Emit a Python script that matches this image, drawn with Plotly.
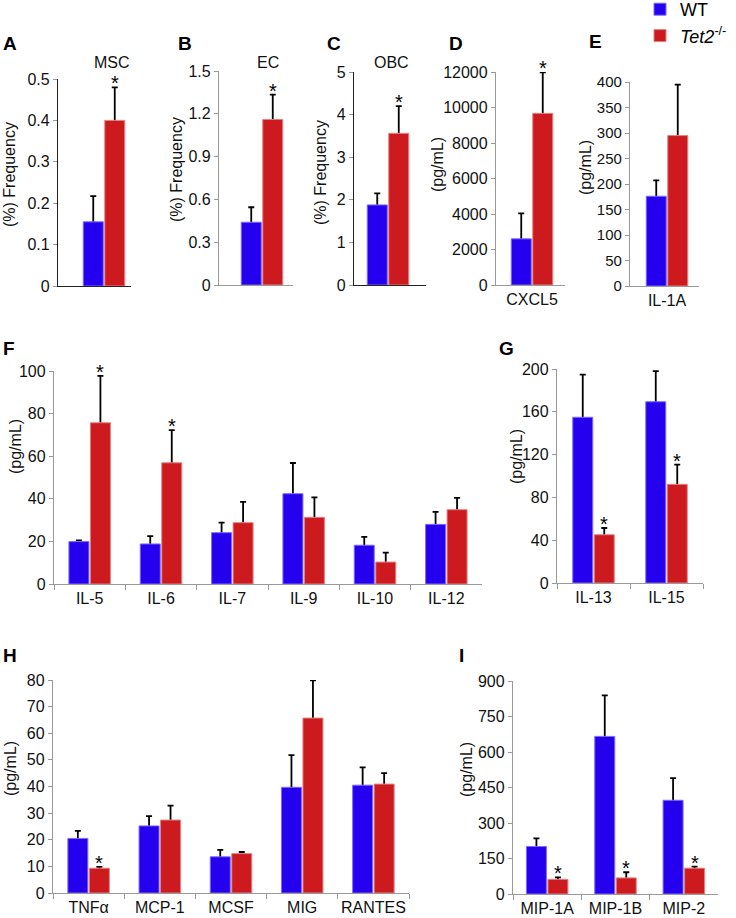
import plotly.graph_objects as go

W, H = 736, 918

BLUE = "#2400EE"
RED = "#CC1A1F"
BLUE_EDGE = "#7C6BFF"
RED_EDGE = "#E48080"
FONT = "Liberation Sans, Arial, Helvetica, sans-serif"

# ---------------- data ----------------
a_cats = ["MSC"]; a_wt = [0.155]; a_wt_err = [0.062]; a_ko = [0.40]; a_ko_err = [0.08]; a_sig = [True]
b_cats = ["EC"]; b_wt = [0.44]; b_wt_err = [0.105]; b_ko = [1.16]; b_ko_err = [0.175]; b_sig = [True]
c_cats = ["OBC"]; c_wt = [1.88]; c_wt_err = [0.27]; c_ko = [3.56]; c_ko_err = [0.64]; c_sig = [True]
d_cats = ["CXCL5"]; d_wt = [2600]; d_wt_err = [1440]; d_ko = [9670]; d_ko_err = [2310]; d_sig = [True]
e_cats = ["IL-1A"]; e_wt = [176]; e_wt_err = [31]; e_ko = [295]; e_ko_err = [100]; e_sig = [False]

f_cats = ["IL-5", "IL-6", "IL-7", "IL-9", "IL-10", "IL-12"]
f_wt = [19.9, 18.8, 24.1, 42.4, 18.2, 28.0]
f_wt_err = [0.6, 3.7, 4.7, 14.4, 3.9, 5.9]
f_ko = [75.7, 56.9, 28.8, 31.3, 10.3, 34.9]
f_ko_err = [22.0, 15.3, 9.8, 9.4, 4.4, 5.5]
f_sig = [True, True, False, False, False, False]

g_cats = ["IL-13", "IL-15"]
g_wt = [154.9, 169.4]; g_wt_err = [39.8, 28.6]
g_ko = [45.1, 92.2]; g_ko_err = [6.3, 18.4]
g_sig = [True, True]

h_cats = ["TNFα", "MCP-1", "MCSF", "MIG", "RANTES"]
h_wt = [20.5, 25.2, 13.6, 39.7, 40.5]
h_wt_err = [2.8, 3.7, 2.6, 12.1, 6.7]
h_ko = [9.3, 27.4, 14.8, 65.7, 40.9]
h_ko_err = [0.5, 5.4, 0.6, 14.2, 4.1]
h_sig = [True, False, False, False, False]

i_cats = ["MIP-1A", "MIP-1B", "MIP-2"]
i_wt = [201, 666, 396]; i_wt_err = [34, 173, 94]
i_ko = [62, 68, 109]; i_ko_err = [8.5, 24, 6.5]
i_sig = [True, True, True]

a_ticks = [0, 0.1, 0.2, 0.3, 0.4, 0.5]
b_ticks = [0, 0.3, 0.6, 0.9, 1.2, 1.5]
c_ticks = [0, 1, 2, 3, 4, 5]
d_ticks = [0, 2000, 4000, 6000, 8000, 10000, 12000]
e_ticks = [0, 50, 100, 150, 200, 250, 300, 350, 400]
f_ticks = [0, 20, 40, 60, 80, 100]
g_ticks = [0, 40, 80, 120, 160, 200]
h_ticks = [0, 10, 20, 30, 40, 50, 60, 70, 80]
i_ticks = [0, 150, 300, 450, 600, 750, 900]

# --------------- layout geometry (page pixels) ---------------
panels = [
    dict(L="A", cats=a_cats, wt=a_wt, wte=a_wt_err, ko=a_ko, koe=a_ko_err, sig=a_sig, ticks=a_ticks,
         box=(58, 131, 79, 286), center=104, ylab="(%) Frequency", ylab_xy=(9, 175), letter_xy=(10, 43),
         title="MSC", title_xy=(112, 62), showx=False, axcol="#222", xticks=False, tfs=16),
    dict(L="B", cats=b_cats, wt=b_wt, wte=b_wt_err, ko=b_ko, koe=b_ko_err, sig=b_sig, ticks=b_ticks,
         box=(219, 293, 71, 285), center=262, ylab="(%) Frequency", ylab_xy=(177, 170), letter_xy=(185, 43),
         title="EC", title_xy=(268, 62), showx=False, axcol="#999", xticks=False, tfs=16),
    dict(L="C", cats=c_cats, wt=c_wt, wte=c_wt_err, ko=c_ko, koe=c_ko_err, sig=c_sig, ticks=c_ticks,
         box=(354, 426, 72, 285), center=388, ylab="(%) Frequency", ylab_xy=(320, 173), letter_xy=(334, 43),
         title="OBC", title_xy=(391, 62), showx=False, axcol="#222", xticks=False, tfs=16),
    dict(L="D", cats=d_cats, wt=d_wt, wte=d_wt_err, ko=d_ko, koe=d_ko_err, sig=d_sig, ticks=d_ticks,
         box=(496, 565, 72, 285), center=532, ylab="(pg/mL)", ylab_xy=(437, 165), letter_xy=(456, 43),
         title=None, showx=True, axcol="#999", xticks=False, tfs=16),
    dict(L="E", cats=e_cats, wt=e_wt, wte=e_wt_err, ko=e_ko, koe=e_ko_err, sig=e_sig, ticks=e_ticks,
         box=(630, 699, 82, 286), center=667, ylab="(pg/mL)", ylab_xy=(585, 168), letter_xy=(595, 42),
         title=None, showx=True, axcol="#999", xticks=False, tfs=15),
    dict(L="F", cats=f_cats, wt=f_wt, wte=f_wt_err, ko=f_ko, koe=f_ko_err, sig=f_sig, ticks=f_ticks,
         box=(54, 482, 371, 584), center=None, ylab="(pg/mL)", ylab_xy=(15, 447), letter_xy=(9, 348),
         title=None, showx=True, axcol="#999", xticks=True, tfs=16),
    dict(L="G", cats=g_cats, wt=g_wt, wte=g_wt_err, ko=g_ko, koe=g_ko_err, sig=g_sig, ticks=g_ticks,
         box=(557, 703, 369, 583), center=None, ylab="(pg/mL)", ylab_xy=(516, 457), letter_xy=(506, 348),
         title=None, showx=True, axcol="#999", xticks=True, tfs=16),
    dict(L="H", cats=h_cats, wt=h_wt, wte=h_wt_err, ko=h_ko, koe=h_ko_err, sig=h_sig, ticks=h_ticks,
         box=(53, 409, 680, 893), center=None, ylab="(pg/mL)", ylab_xy=(10, 769), letter_xy=(10, 655),
         title=None, showx=True, axcol="#999", xticks=True, tfs=16),
    dict(L="I", cats=i_cats, wt=i_wt, wte=i_wt_err, ko=i_ko, koe=i_ko_err, sig=i_sig, ticks=i_ticks,
         box=(513, 718, 681, 894), center=None, ylab="(pg/mL)", ylab_xy=(466, 770), letter_xy=(462, 655),
         title=None, showx=True, axcol="#999", xticks=True, tfs=16),
]


def px(xp):
    return xp / W


def py(yp):
    return 1 - yp / H


UNIT_SINGLE = 71.0   # px per category unit for single-category panels
BAR_PX = 20.0
GAP_PX = 1.5

fig = go.Figure()
annotations = []
layout_axes = {}

for k, p in enumerate(panels):
    n = k + 1
    xname = "x" if n == 1 else f"x{n}"
    yname = "y" if n == 1 else f"y{n}"
    x0, x1, ytop, ybot = p["box"]
    if p["center"] is not None:
        lo = -(p["center"] - x0) / UNIT_SINGLE
        hi = lo + (x1 - x0) / UNIT_SINGLE
        unit = UNIT_SINGLE
    else:
        lo, hi = -0.5, len(p["cats"]) - 0.5
        unit = (x1 - x0) / (hi - lo)
    bw = BAR_PX / unit
    gap = GAP_PX / unit
    off_wt = -bw - gap / 2
    off_ko = gap / 2

    err_style = dict(type="data", symmetric=True, color="black", thickness=1.8, width=3)
    # error-bar carriers (transparent bars drawn underneath; lower half hidden by bars)
    for vals, errs, off in ((p["wt"], p["wte"], off_wt), (p["ko"], p["koe"], off_ko)):
        fig.add_trace(go.Bar(x=p["cats"], y=vals, width=[bw] * len(vals), offset=off,
                             marker=dict(color="rgba(0,0,0,0)", line=dict(width=0)),
                             error_y=dict(array=errs, **err_style),
                             showlegend=False, hoverinfo="skip", xaxis=xname, yaxis=yname))
    fig.add_trace(go.Bar(x=p["cats"], y=p["wt"], width=[bw] * len(p["wt"]), offset=off_wt, name="WT",
                         marker=dict(color=BLUE, line=dict(color=BLUE_EDGE, width=1)),
                         showlegend=(n == 1), legendgroup="wt", xaxis=xname, yaxis=yname))
    fig.add_trace(go.Bar(x=p["cats"], y=p["ko"], width=[bw] * len(p["ko"]), offset=off_ko,
                         name="<i>Tet2</i><sup>-/-</sup>",
                         marker=dict(color=RED, line=dict(color=RED_EDGE, width=1)),
                         showlegend=(n == 1), legendgroup="ko", xaxis=xname, yaxis=yname))

    xdom = [px(x0), px(x1)]
    ydom = [py(ybot), py(ytop)]
    xa_key = "xaxis" if n == 1 else f"xaxis{n}"
    ya_key = "yaxis" if n == 1 else f"yaxis{n}"
    layout_axes[xa_key] = dict(
        domain=xdom, anchor=yname, type="category", range=[lo, hi],
        showline=True, linecolor=p["axcol"], linewidth=1.3, showgrid=False, zeroline=False,
        showticklabels=p["showx"], ticks="outside" if p["xticks"] else "",
        tickson="boundaries" if p["xticks"] else None, tickangle=0,
        ticklen=5, tickcolor="#999", tickwidth=1,
        tickfont=dict(family=FONT, size=16, color="#111"), fixedrange=True,
    )
    tt = [f"{v:g}" for v in p["ticks"]]
    layout_axes[ya_key] = dict(
        domain=ydom, anchor=xname, range=[0, p["ticks"][-1]],
        tickvals=p["ticks"], ticktext=tt,
        showline=True, linecolor=p["axcol"], linewidth=1.3, showgrid=False, zeroline=False,
        ticks="outside", ticklen=4, tickcolor="#999", tickwidth=1,
        tickfont=dict(family=FONT, size=p["tfs"], color="#111"), fixedrange=True,
    )

    # significance asterisks above KO error bars
    for j, (v, e, s) in enumerate(zip(p["ko"], p["koe"], p["sig"])):
        if s:
            annotations.append(dict(x=j + off_ko + bw / 2, y=v + e, xref=xname, yref=yname,
                                    text="*", showarrow=False, yanchor="bottom", yshift=-9,
                                    font=dict(family=FONT, size=20, color="black")))
    # y-axis title
    annotations.append(dict(x=px(p["ylab_xy"][0]), y=py(p["ylab_xy"][1]), xref="paper", yref="paper",
                            text=p["ylab"], textangle=-90, showarrow=False,
                            xanchor="center", yanchor="middle",
                            font=dict(family=FONT, size=16, color="#111")))
    # panel letter
    annotations.append(dict(x=px(p["letter_xy"][0]), y=py(p["letter_xy"][1]), xref="paper", yref="paper",
                            text=f"<b>{p['L']}</b>", showarrow=False, xanchor="center", yanchor="middle",
                            font=dict(family=FONT, size=19, color="black")))
    if p["title"]:
        annotations.append(dict(x=px(p["title_xy"][0]), y=py(p["title_xy"][1]), xref="paper", yref="paper",
                                text=p["title"], showarrow=False, xanchor="center", yanchor="middle",
                                font=dict(family=FONT, size=16, color="#111")))

fig.update_layout(
    width=W, height=H, margin=dict(l=0, r=0, t=0, b=0, autoexpand=False),
    paper_bgcolor="white", plot_bgcolor="white",
    barmode="overlay", annotations=annotations,
    font=dict(family=FONT, color="#111"),
    legend=dict(x=px(640), y=1 + 9 / H, xanchor="left", yanchor="top", bgcolor="rgba(0,0,0,0)",
                font=dict(family=FONT, size=18, color="black"), tracegroupgap=0, itemclick=False),
    **layout_axes,
)

# remove the browser's default 8px body margin so the figure fills the window exactly
fig.write_html("out.html", config={"displayModeBar": False},
               post_script="document.body.style.margin='0px';")
